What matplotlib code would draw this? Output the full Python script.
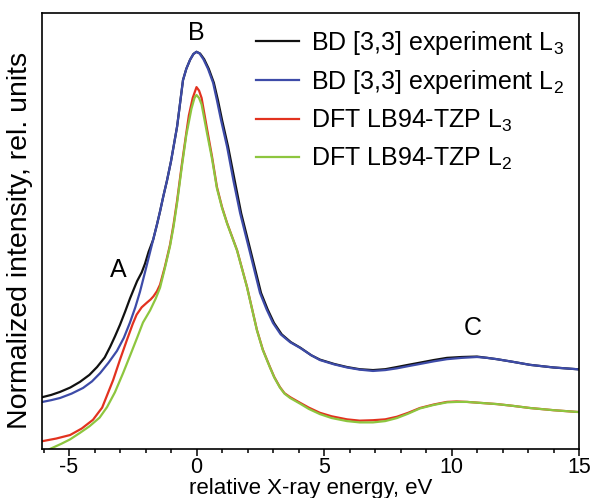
import matplotlib
matplotlib.use("Agg")
import matplotlib.pyplot as plt
from matplotlib.ticker import MultipleLocator

plt.rcParams['font.family'] = ['Liberation Sans', 'DejaVu Sans']
plt.rcParams['mathtext.fontset'] = 'custom'
plt.rcParams['mathtext.rm'] = 'Liberation Sans'
plt.rcParams['axes.unicode_minus'] = False

# ---- data (relative X-ray energy in eV, normalized intensity) ----
x_bd_l3 = [-6.04, -5.7, -5.35, -4.95, -4.57, -4.2, -3.90, -3.6, -3.39, -3.2, -3.0, -2.8, -2.61,
           -2.45, -2.33, -2.15, -2.02, -1.88, -1.7, -1.55, -1.43, -1.3, -1.16, -1.0, -0.88, -0.76,
           -0.53, -0.4, -0.25, -0.12, 0.0, 0.14, 0.3, 0.48, 0.68, 0.84, 1.0, 1.24, 1.5, 1.75, 2.14,
           2.53, 2.79, 3.04, 3.34, 3.70, 4.08, 4.5, 4.84, 5.4, 5.90, 6.4, 6.92, 7.4, 7.86, 8.3, 8.76,
           9.3, 9.82, 10.4, 11.0, 11.4, 11.78, 12.4, 13.08, 14.0, 14.92, 15.0]
y_bd_l3 = [0.119, 0.124, 0.131, 0.141, 0.154, 0.170, 0.188, 0.210, 0.234, 0.258, 0.285, 0.315, 0.345,
           0.368, 0.385, 0.405, 0.425, 0.452, 0.480, 0.515, 0.545, 0.580, 0.615, 0.660, 0.700, 0.740,
           0.846, 0.872, 0.893, 0.906, 0.911, 0.907, 0.894, 0.872, 0.840, 0.800, 0.755, 0.693, 0.615, 0.541, 0.450,
           0.358, 0.320, 0.289, 0.263, 0.245, 0.232, 0.215, 0.205, 0.195, 0.188, 0.183, 0.181, 0.183, 0.188, 0.193, 0.198,
           0.204, 0.209, 0.211, 0.212, 0.209, 0.206, 0.200, 0.193, 0.187, 0.183, 0.183]

x_bd_l2 = [-6.04, -5.7, -5.35, -4.9, -4.45, -4.1, -3.78, -3.45, -3.12, -2.85, -2.61, -2.4, -2.22,
           -2.0, -1.85, -1.7, -1.55, -1.43, -1.3, -1.16, -1.0, -0.88, -0.76,
           -0.53, -0.4, -0.25, -0.12, 0.0, 0.12, 0.27, 0.45, 0.65, 0.8, 0.96, 1.2, 1.45, 1.71, 2.10,
           2.49, 2.75, 3.0, 3.3, 3.67, 4.06, 4.5, 4.84, 5.4, 5.90, 6.4, 6.92, 7.4, 7.86, 8.3, 8.76,
           9.3, 9.82, 10.4, 11.0, 11.4, 11.78, 12.4, 13.08, 14.0, 14.92, 15.0]
y_bd_l2 = [0.108, 0.112, 0.117, 0.127, 0.140, 0.155, 0.174, 0.198, 0.225, 0.255, 0.290, 0.325, 0.360,
           0.410, 0.445, 0.480, 0.515, 0.545, 0.580, 0.615, 0.660, 0.700, 0.740,
           0.846, 0.872, 0.893, 0.906, 0.911, 0.907, 0.894, 0.872, 0.840, 0.800, 0.755, 0.693, 0.615, 0.541, 0.450,
           0.358, 0.320, 0.289, 0.263, 0.245, 0.232, 0.215, 0.204, 0.194, 0.187, 0.182, 0.179, 0.181, 0.185, 0.190, 0.195,
           0.201, 0.206, 0.209, 0.211, 0.209, 0.206, 0.200, 0.193, 0.187, 0.183, 0.182]

x_dft_l3 = [-6.04, -5.5, -4.96, -4.5, -4.06, -3.7, -3.27, -3.0, -2.73, -2.5, -2.35, -2.15, -1.94,
            -1.8, -1.69, -1.55, -1.43, -1.24, -1.04, -0.9, -0.76, -0.57, -0.4, -0.3, -0.15, 0.0,
            0.1, 0.2, 0.41, 0.61, 0.80, 1.0, 1.20, 1.59, 1.98, 2.37, 2.6, 2.88, 3.05, 3.27, 3.45,
            3.67, 4.06, 4.4, 4.84, 5.3, 5.90, 6.4, 6.92, 7.4, 7.86, 8.3, 8.76, 9.3, 9.82, 10.2,
            10.61, 11.78, 12.4, 13.08, 14.0, 14.92, 15.0]
y_dft_l3 = [0.018, 0.024, 0.032, 0.047, 0.067, 0.095, 0.158, 0.205, 0.250, 0.287, 0.308, 0.325, 0.336,
            0.343, 0.350, 0.362, 0.377, 0.418, 0.468, 0.515, 0.570, 0.655, 0.725, 0.765, 0.805, 0.830,
            0.822, 0.805, 0.735, 0.670, 0.601, 0.555, 0.518, 0.456, 0.372, 0.273, 0.228, 0.188, 0.165, 0.142, 0.128,
            0.119, 0.106, 0.095, 0.083, 0.075, 0.068, 0.065, 0.066, 0.068, 0.074, 0.083, 0.094, 0.102, 0.108, 0.109,
            0.108, 0.103, 0.099, 0.094, 0.089, 0.085, 0.085]

x_dft_l2 = [-6.04, -5.75, -5.3, -4.96, -4.57, -4.2, -3.8, -3.51, -3.2, -2.88, -2.6, -2.33, -2.1,
            -1.82, -1.6, -1.43, -1.24, -1.04, -0.9, -0.76, -0.57, -0.4, -0.2, -0.08, 0.0, 0.1, 0.2,
            0.41, 0.61, 0.80, 1.0, 1.20, 1.59, 1.98, 2.37, 2.6, 2.88, 3.05, 3.27, 3.45, 3.67, 4.06,
            4.4, 4.84, 5.3, 5.90, 6.4, 6.92, 7.4, 7.86, 8.3, 8.76, 9.3, 9.82, 10.2, 10.61, 11.78,
            12.4, 13.08, 14.0, 14.92, 15.0]
y_dft_l2 = [-0.010, 0.0, 0.012, 0.022, 0.037, 0.052, 0.072, 0.096, 0.130, 0.174, 0.215, 0.255, 0.290,
            0.318, 0.345, 0.370, 0.415, 0.465, 0.510, 0.565, 0.650, 0.720, 0.780, 0.805, 0.812, 0.805, 0.790,
            0.725, 0.665, 0.598, 0.553, 0.517, 0.455, 0.371, 0.272, 0.227, 0.187, 0.164, 0.141, 0.127, 0.117, 0.104,
            0.092, 0.080, 0.071, 0.064, 0.061, 0.061, 0.064, 0.071, 0.081, 0.093, 0.101, 0.107, 0.108,
            0.108, 0.103, 0.099, 0.094, 0.089, 0.085, 0.085]

labels = ['BD [3,3] experiment $\\mathregular{L_3}$',
          'BD [3,3] experiment $\\mathregular{L_2}$',
          'DFT LB94-TZP $\\mathregular{L_3}$',
          'DFT LB94-TZP $\\mathregular{L_2}$']
colors = ['#111111', '#3d4ba8', '#e2321f', '#8dc63f']

peak_labels = ['A', 'B', 'C']
peak_x = [-3.08, 0.0, 10.85]
peak_y = [0.41, 0.954, 0.278]

# ---- figure ----
fig = plt.figure(figsize=(5.91, 4.98), dpi=100)
ax = fig.add_axes([0.0719, 0.0984, 0.9078, 0.8755])

series = [(x_bd_l3, y_bd_l3), (x_bd_l2, y_bd_l2), (x_dft_l3, y_dft_l3), (x_dft_l2, y_dft_l2)]
for (xs, ys), lab, c in zip(series, labels, colors):
    ax.plot(xs, ys, color=c, lw=1.6, label=lab, solid_joinstyle='round')

for t, px, py in zip(peak_labels, peak_x, peak_y):
    ax.text(px, py, t, ha='center', va='center', fontsize=18)

ax.set_xlim(-6.04, 15)
ax.set_ylim(0, 1)
ax.xaxis.set_major_locator(MultipleLocator(5))
ax.xaxis.set_minor_locator(MultipleLocator(1))
ax.tick_params(axis='x', which='major', direction='out', length=5, width=1.1, labelsize=15.5, pad=1)
ax.tick_params(axis='x', which='minor', direction='out', length=3, width=1.1)
ax.set_yticks([])
for s in ax.spines.values():
    s.set_linewidth(1.2)

ax.set_xlabel('relative X-ray energy, eV', fontsize=16)
ax.xaxis.set_label_coords(0.5, -0.066)
ax.set_ylabel('Normalized intensity, rel. units', fontsize=20.5)
ax.yaxis.set_label_coords(-0.018, 0.479)

leg = ax.legend(loc='upper left', bbox_to_anchor=(0.398, 0.964), frameon=False, fontsize=18,
                handlelength=1.7, handletextpad=0.5, labelspacing=0.46, borderpad=0, borderaxespad=0)

fig.savefig('out.png', dpi=100)
